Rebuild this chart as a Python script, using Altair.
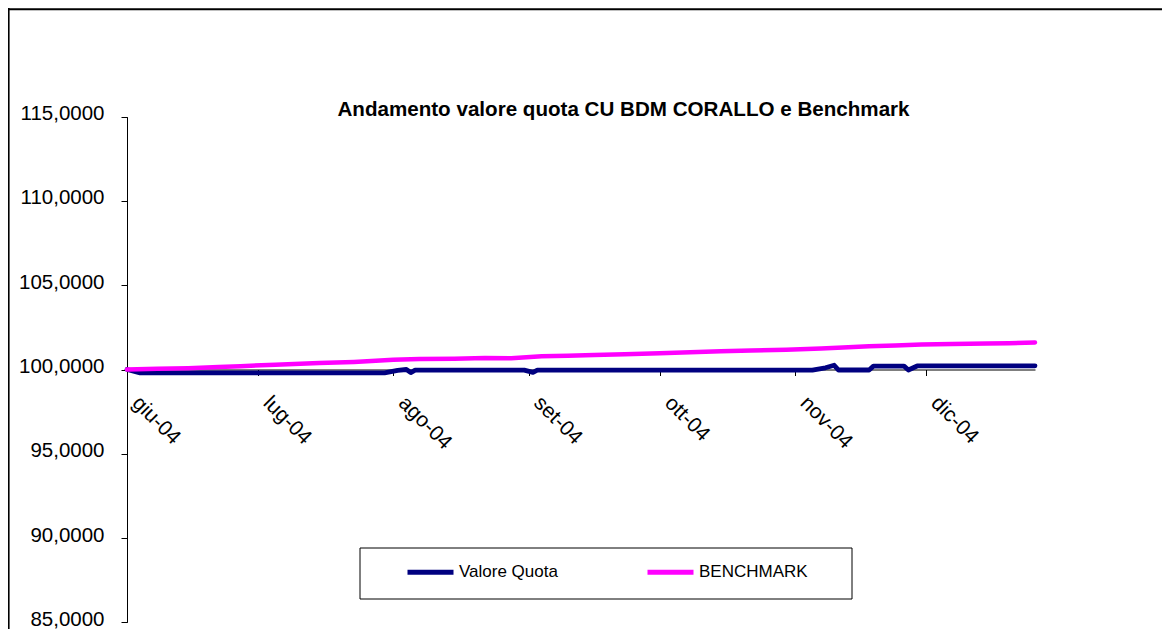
import altair as alt
import pandas as pd

# ---------------- data ----------------
series_names = ["Valore Quota", "BENCHMARK"]
series_colors = ["#000080", "#FF00FF"]

quota_dates = [
    "2004-06-01", "2004-06-04", "2004-07-30", "2004-08-02", "2004-08-04",
    "2004-08-05", "2004-08-06", "2004-08-31", "2004-09-02", "2004-09-03",
    "2004-11-05", "2004-11-08", "2004-11-10", "2004-11-11", "2004-11-18",
    "2004-11-19", "2004-11-26", "2004-11-27", "2004-11-29", "2004-12-26",
]
quota_values = [
    100.00, 99.80, 99.80, 99.95, 100.00,
    99.82, 99.96, 99.96, 99.83, 99.96,
    99.96, 100.10, 100.25, 99.97, 99.97,
    100.20, 100.20, 99.97, 100.21, 100.22,
]

bench_dates = [
    "2004-06-01", "2004-06-08", "2004-06-15", "2004-06-22", "2004-06-27",
    "2004-07-05", "2004-07-15", "2004-07-23", "2004-08-01", "2004-08-07",
    "2004-08-15", "2004-08-22", "2004-08-28", "2004-09-04", "2004-09-10",
    "2004-09-16", "2004-09-23", "2004-10-01", "2004-10-08", "2004-10-15",
    "2004-10-22", "2004-10-30", "2004-11-07", "2004-11-12", "2004-11-18",
    "2004-11-24", "2004-11-30", "2004-12-07", "2004-12-15", "2004-12-20",
    "2004-12-26",
]
bench_values = [
    100.00, 100.04, 100.08, 100.15, 100.20,
    100.28, 100.38, 100.45, 100.58, 100.62,
    100.64, 100.68, 100.67, 100.78, 100.82,
    100.86, 100.90, 100.96, 101.02, 101.08,
    101.12, 101.17, 101.25, 101.30, 101.38,
    101.43, 101.48, 101.51, 101.54, 101.56,
    101.60,
]

y_ticks = [85, 90, 95, 100, 105, 110, 115]
x_tick_dates = ["2004-06-01", "2004-07-01", "2004-08-01", "2004-09-01",
                "2004-10-01", "2004-11-01", "2004-12-01"]
x_tick_labels = ["giu-04", "lug-04", "ago-04", "set-04", "ott-04", "nov-04", "dic-04"]
x_domain = ["2004-06-01", "2004-12-26"]
title_text = "Andamento valore quota CU BDM CORALLO e Benchmark"

# ---------------- build ----------------
FONT = "Liberation Sans"
W, H = 1154, 621


def dt(s):
    y, m, d = (int(p) for p in s.split("-"))
    return alt.DateTime(year=y, month=m, date=d, utc=True)


quota_df = pd.DataFrame({"date": quota_dates, "value": quota_values,
                         "series": series_names[0]})
bench_df = pd.DataFrame({"date": bench_dates, "value": bench_values,
                         "series": series_names[1]})

month_arr = [""] * 12
for d, lab in zip(x_tick_dates, x_tick_labels):
    month_arr[int(d[5:7]) - 1] = lab
x_label_expr = "[" + ",".join("'%s'" % m for m in month_arr) + "][utcmonth(datum.value)]"

# y position of value 100 in view coords (axis crossing)
Y_TOP, Y_BOT = 108.7, 614.3
y_cross = Y_BOT - (100 - 85) / 30 * (Y_BOT - Y_TOP)

x_enc = alt.X(
    "date:T",
    scale=alt.Scale(type="utc", domain=[dt(x_domain[0]), dt(x_domain[1])],
                    range=[119, 1027]),
    axis=alt.Axis(
        values=[dt(d) for d in x_tick_dates], labelExpr=x_label_expr,
        orient="bottom", offset=y_cross - H, grid=False, title=None,
        domainColor="black", domainWidth=1, tickColor="black", tickSize=6,
        labelAngle=45, labelAlign="left", labelBaseline="middle",
        labelPadding=24, labelOffset=8, labelFlush=False, labelOverlap=False,
        labelBound=False, labelFont=FONT, labelFontSize=21, labelColor="black",
    ),
)
y_enc = alt.Y(
    "value:Q",
    scale=alt.Scale(domain=[85, 115], range=[Y_BOT, Y_TOP], nice=False, zero=False),
    axis=alt.Axis(
        values=y_ticks, labelExpr="replace(format(datum.value, '.4f'), '.', ',')",
        orient="left", offset=-119, grid=False, title=None,
        domainColor="black", domainWidth=1, tickColor="black", tickSize=6,
        labelPadding=17, labelOffset=-3, labelFont=FONT, labelFontSize=20.5,
        labelColor="black",
    ),
)
color_enc = alt.Color(
    "series:N",
    scale=alt.Scale(domain=series_names, range=series_colors),
    legend=alt.Legend(
        orient="none", legendX=397, legendY=538.5, direction="horizontal",
        title=None, symbolType="stroke", symbolSize=2116, symbolStrokeWidth=5,
        labelFont=FONT, labelFontSize=17, labelColor="black", labelOffset=3,
        columnPadding=79, padding=0,
    ),
)

quota_line = alt.Chart(quota_df).mark_line(
    strokeWidth=4.8, strokeCap="round", strokeJoin="round"
).encode(x=x_enc, y=y_enc, color=color_enc)
bench_line = alt.Chart(bench_df).mark_line(
    strokeWidth=4.5, strokeCap="round", strokeJoin="round"
).encode(x=x_enc, y=y_enc, color=color_enc)

one = pd.DataFrame({"k": [0]})
frame_top = alt.Chart(one).mark_rule(color="black", strokeWidth=2).encode(
    x=alt.value(0), x2=alt.value(W), y=alt.value(1.3))
frame_left = alt.Chart(one).mark_rule(color="black", strokeWidth=2).encode(
    x=alt.value(0.6), y=alt.value(0), y2=alt.value(H))
legend_box = alt.Chart(one).mark_rect(fill="white", stroke="black", strokeWidth=1).encode(
    x=alt.value(352), x2=alt.value(844), y=alt.value(540), y2=alt.value(591))
title_mark = alt.Chart(one).mark_text(
    text=title_text, font=FONT, fontSize=20.6, fontWeight="bold", color="black",
    align="center", baseline="alphabetic",
).encode(x=alt.value(615.5), y=alt.value(108))

chart = alt.layer(
    frame_top, frame_left, legend_box, title_mark, quota_line, bench_line
).properties(
    width=W, height=H, autosize=alt.AutoSizeParams(type="none"), padding=0,
    background="white",
).configure_view(stroke=None)

chart.save("out.html", embed_options={"renderer": "svg", "actions": False})
